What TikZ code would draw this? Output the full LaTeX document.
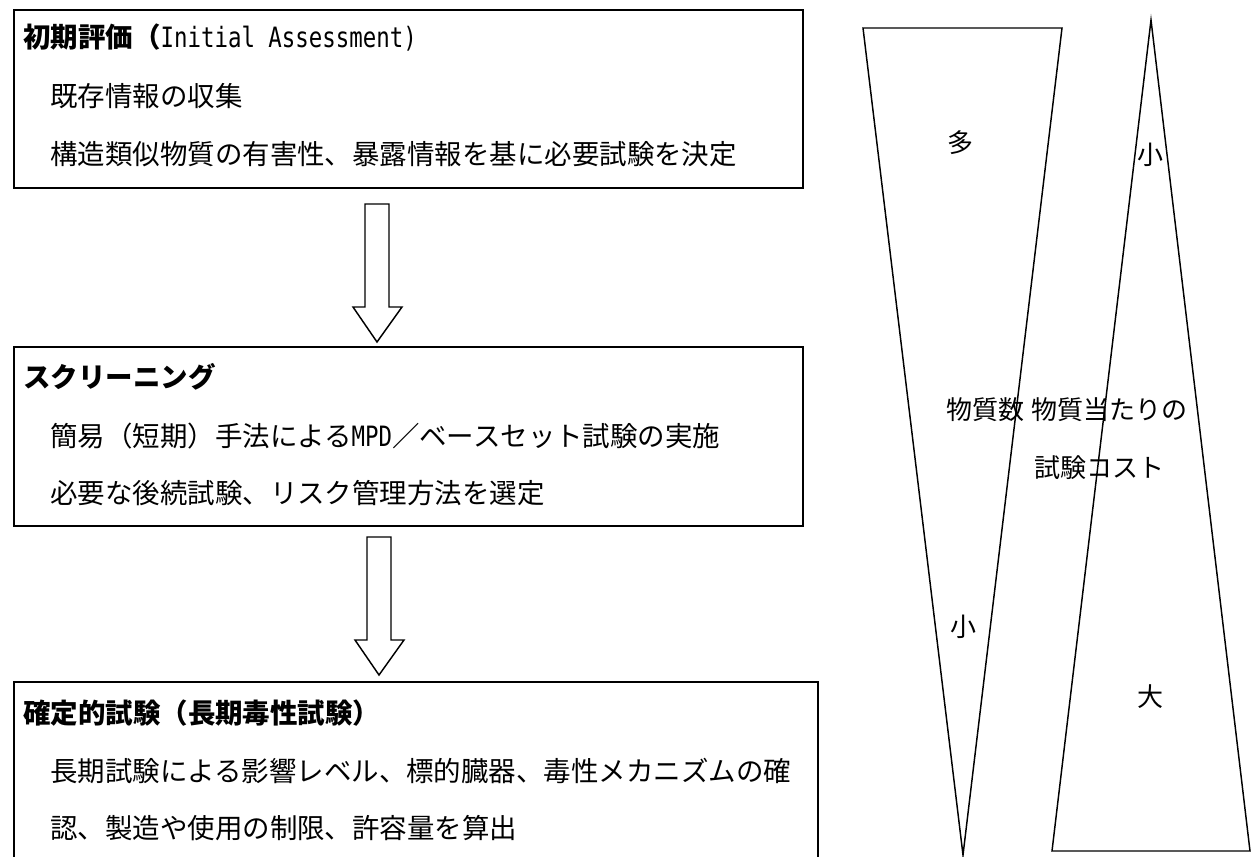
\documentclass[tikz,border=0pt]{standalone}
\usepackage{fontspec}
\setmainfont{Noto Sans CJK JP}
\newfontfamily\narrowlatin[FakeStretch=0.8]{DejaVu Sans Mono}
\begin{document}
\begin{tikzpicture}[x=0.75pt,y=-0.75pt,
  boxline/.style={draw=black,line width=1.6pt},
  fat/.style={draw=black,line width=1.1pt,line join=miter},
  wedge/.style={draw=black,line width=1.1pt},
  txt/.style={anchor=west,inner sep=0pt,font=\fontsize{20.6}{24}\selectfont},
  ttl/.style={anchor=west,inner sep=0pt,font=\fontsize{20.6}{24}\selectfont\bfseries},
  lbl/.style={inner sep=0pt,font=\fontsize{19.5}{23}\selectfont}]
\useasboundingbox (0,0) rectangle (1257,857);
\fill[white] (0,0) rectangle (1257,857);
% boxes
\draw[boxline] (14,10) rectangle (803,188);
\node[ttl] (t1) at (23,37) {初期評価（{\mdseries\narrowlatin\fontsize{21}{24}\selectfont Initial Assessment)}};
\node[txt] (a1) at (50,96) {既存情報の収集};
\node[txt] (a2) at (50,154) {構造類似物質の有害性、暴露情報を基に必要試験を決定};
\draw[boxline] (14,347) rectangle (803,526);
\node[ttl] (t2) at (23,377) {スクリーニング};
\node[txt] (b1) at (50,436) {簡易（短期）手法による{\narrowlatin\fontsize{21}{24}\selectfont MPD}／ベースセット試験の実施};
\node[txt] (b2) at (50,493) {必要な後続試験、リスク管理方法を選定};
\draw[boxline] (14,870) -- (14,682) -- (818,682) -- (818,870);
\node[ttl] (t3) at (23,713) {確定的試験（長期毒性試験）};
\node[txt] (c1) at (50,771) {長期試験による影響レベル、標的臓器、毒性メカニズムの確};
\node[txt] (c2) at (50,828) {認、製造や使用の制限、許容量を算出};
% block arrows
\draw[fat] (365,204) -- (389,204) -- (389,307) -- (402,307) -- (377,342) -- (353,307) -- (365,307) -- cycle;
\draw[fat] (367,537) -- (391,537) -- (391,640) -- (404,640) -- (379,675) -- (355,640) -- (367,640) -- cycle;
% wedges
\draw[wedge] (863,28) -- (1062,28) -- (963,855) -- cycle;
\draw[wedge] (1151,20) -- (1250,851) -- (1052,851) -- cycle;
\node[lbl] (m1) at (960,143) {多};
\node[lbl,anchor=west] (m2) at (946,410) {物質数};
\node[lbl] (m3) at (963,627) {小};
\node[lbl] (n1) at (1150,155) {小};
\node[lbl,anchor=west] (n2) at (1031,410) {物質当たりの};
\node[lbl,anchor=west] (n3) at (1034,468) {試験コスト};
\node[lbl] (n4) at (1150,697) {大};
\end{tikzpicture}
\end{document}
